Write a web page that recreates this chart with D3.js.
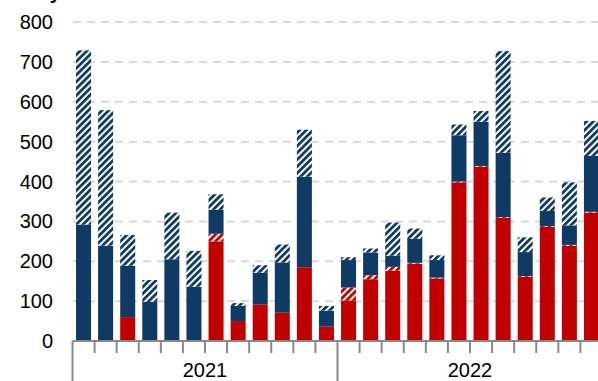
<!DOCTYPE html>
<html>
<head>
<meta charset="utf-8">
<script src="https://cdn.jsdelivr.net/npm/d3@7"></script>
<style>
  html, body { margin: 0; padding: 0; background: #fff; }
  svg { display: block; font-family: "Liberation Sans", Arial, sans-serif; }
</style>
</head>
<body>
<svg id="chart" width="598" height="381"></svg>
<script>
const months = ["2021-01","2021-02","2021-03","2021-04","2021-05","2021-06","2021-07","2021-08","2021-09","2021-10","2021-11","2021-12",
                "2022-01","2022-02","2022-03","2022-04","2022-05","2022-06","2022-07","2022-08","2022-09","2022-10","2022-11","2022-12"];
const years = ["2021", "2022"];
const redSolid  = [0,0,60,0,0,0,250,50,92,71,185,36, 102,155,176,194,157,398,437,309,161,286,239,322];
const redHatch  = [0,0,0,0,0,0,19,0,0,0,0,0, 32,10,10,2,2,2,2,2,2,2,2,2];
const navySolid = [292,239,129,98,205,136,60,38,79,126,227,40, 69,57,28,60,44,116,111,161,60,38,49,140];
const navyHatch = [437,340,77,55,117,90,39,7,19,45,118,12, 7,10,83,26,12,27,27,255,37,34,108,88];
const yTicks = [0,100,200,300,400,500,600,700,800];
const titleText = "Monthly";

const svg = d3.select("#chart");
const NAVY = "#0f3a64", RED = "#c00000";
const defs = svg.append("defs");
function hatch(id, color) {
  const p = defs.append("pattern").attr("id", id).attr("patternUnits", "userSpaceOnUse")
    .attr("width", 4.8).attr("height", 4.8).attr("patternTransform", "rotate(45)");
  p.append("rect").attr("width", 4.8).attr("height", 4.8).attr("fill", "#fff");
  p.append("rect").attr("width", 2.8).attr("height", 4.8).attr("fill", color);
}
hatch("hatchNavy", NAVY);
hatch("hatchRed", RED);

const x0 = 72.5, x1 = 602.5;
const x = d3.scaleBand().domain(months).range([x0, x1]).paddingInner(0.32).paddingOuter(0.16);
const y = d3.scaleLinear().domain([0, 800]).range([341, 22]);

// gridlines
svg.append("g").selectAll("line").data(yTicks.filter(d => d > 0)).join("line")
  .attr("x1", 73).attr("x2", 598).attr("y1", d => y(d)).attr("y2", d => y(d))
  .attr("stroke", "#d9d9d9").attr("stroke-width", 2).attr("stroke-dasharray", "8,6");

// y labels
svg.append("g").selectAll("text").data(yTicks).join("text")
  .attr("x", 53).attr("y", d => y(d)).attr("dy", "0.35em").attr("text-anchor", "end")
  .attr("font-size", 20).attr("fill", "#000").text(d => d);

svg.append("text").attr("x", 61).attr("y", -1).attr("text-anchor", "end")
  .attr("font-size", 20).attr("font-weight", "bold").text(titleText);

// stacked bars
const keys = ["redSolid","redHatch","navySolid","navyHatch"];
const fills = {redSolid: RED, redHatch: "url(#hatchRed)", navySolid: NAVY, navyHatch: "url(#hatchNavy)"};
const rows = months.map((m, i) => ({m, redSolid: redSolid[i], redHatch: redHatch[i], navySolid: navySolid[i], navyHatch: navyHatch[i]}));
const stack = d3.stack().keys(keys)(rows);
svg.append("g").selectAll("g").data(stack).join("g")
  .attr("fill", d => fills[d.key])
  .selectAll("rect").data(d => d).join("rect")
  .attr("x", d => x(d.data.m)).attr("width", x.bandwidth())
  .attr("y", d => y(d[1])).attr("height", d => Math.max(0, y(d[0]) - y(d[1])));

// x axis
const ax = svg.append("g").attr("stroke", "#898989").attr("stroke-width", 2);
ax.append("line").attr("x1", x0).attr("x2", 598).attr("y1", 341).attr("y2", 341);
const step = x.step();
ax.selectAll("line.tick").data(months.map((m, i) => i)).join("line").attr("class", "tick")
  .attr("x1", i => x0 + i * step).attr("x2", i => x0 + i * step)
  .attr("y1", 341).attr("y2", i => i % 12 === 0 ? 381 : 353);

svg.append("g").selectAll("text").data(years).join("text")
  .attr("x", (d, i) => x0 + (i * 12 + 6) * step).attr("y", 377)
  .attr("text-anchor", "middle").attr("font-size", 20).attr("fill", "#000").text(d => d);
</script>
</body>
</html>
